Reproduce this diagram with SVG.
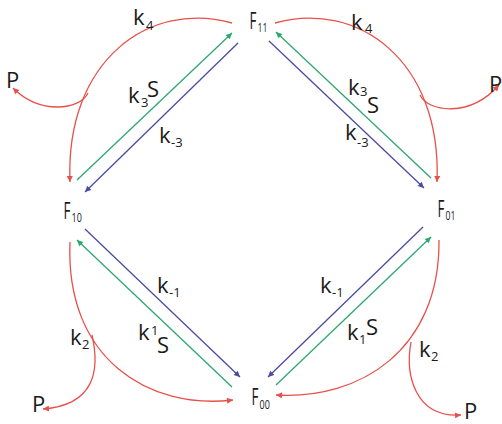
<svg xmlns="http://www.w3.org/2000/svg" width="502" height="424" viewBox="0 0 502 424">
<style>
.t{font-family:"Open Sans","Noto Sans","Liberation Sans",sans-serif;font-size:22px;fill:#1a1a1a}
.s{font-size:13px}
.F{font-family:"Open Sans","Noto Sans","Liberation Sans",sans-serif;font-size:23px;fill:#1a1a1a}
.fs{font-family:"Open Sans","Noto Sans","Liberation Sans",sans-serif;font-size:12px;fill:#1a1a1a}
.r{fill:none;stroke:#e8504a;stroke-width:1.3}
.g{fill:none;stroke:#2da771;stroke-width:1.3}
.b{fill:none;stroke:#4b4ba0;stroke-width:1.3}
</style>
<defs>
<marker id="ar" viewBox="0 0 10 10" refX="10" refY="5" markerWidth="7" markerHeight="6" markerUnits="userSpaceOnUse" orient="auto"><path d="M0,0 L10,5 L0,10 z" fill="#e8504a"/></marker>
<marker id="ag" viewBox="0 0 10 10" refX="10" refY="5" markerWidth="7" markerHeight="6" markerUnits="userSpaceOnUse" orient="auto"><path d="M0,0 L10,5 L0,10 z" fill="#2da771"/></marker>
<marker id="ab" viewBox="0 0 10 10" refX="10" refY="5" markerWidth="7" markerHeight="6" markerUnits="userSpaceOnUse" orient="auto"><path d="M0,0 L10,5 L0,10 z" fill="#4b4ba0"/></marker>
</defs>

<g id="connectors">
<path class="g" d="M77,180 L232,33" marker-end="url(#ag)"/>
<path class="b" d="M238,43 L85,192" marker-end="url(#ab)"/>
<path class="r" d="M232,23 C150,0 65,60 70,182" marker-end="url(#ar)"/>
<path class="r" d="M88,93 C80,110 40,115 13,88" marker-end="url(#ar)"/>
<path class="g" d="M431,178 L276,32" marker-end="url(#ag)"/>
<path class="b" d="M269,41 L424,188" marker-end="url(#ab)"/>
<path class="r" d="M275,23 C357,0 442,60 437,182" marker-end="url(#ar)"/>
<path class="r" d="M420,95 C428,112 470,118 499,85" marker-end="url(#ar)"/>
<path class="b" d="M85,229 L240,377" marker-end="url(#ab)"/>
<path class="g" d="M232,387 L77,240" marker-end="url(#ag)"/>
<path class="r" d="M70,242 C65,360 150,410 233,400" marker-end="url(#ar)"/>
<path class="r" d="M92,335 C100,370 95,405 43,409" marker-end="url(#ar)"/>
<path class="b" d="M423,227 L268,377" marker-end="url(#ab)"/>
<path class="g" d="M276,385 L431,237" marker-end="url(#ag)"/>
<path class="r" d="M439,240 C440,350 360,400 276,395" marker-end="url(#ar)"/>
<path class="r" d="M411,342 C405,375 415,418 461,415" marker-end="url(#ar)"/>
</g>

<g id="F11"><text class="F" transform="translate(249.5,29) scale(0.58,1)">F</text><text class="fs" transform="translate(257.5,32) scale(0.72,1)">11</text></g>
<g id="F10"><text class="F" transform="translate(63.5,219) scale(0.58,1)">F</text><text class="fs" transform="translate(71.5,222) scale(0.75,1)">10</text></g>
<g id="F01"><text class="F" transform="translate(437.5,217) scale(0.58,1)">F</text><text class="fs" transform="translate(445.5,220) scale(0.72,1)">01</text></g>
<g id="F00"><text class="F" transform="translate(251.5,405) scale(0.58,1)">F</text><text class="fs" transform="translate(259.5,409) scale(0.75,1)">00</text></g>

<g id="labels">
<text class="t" x="133" y="25">k<tspan class="s" x="146" y="30">4</tspan></text>
<text class="t" x="351" y="30">k<tspan class="s" x="365" y="33">4</tspan></text>
<text class="t" x="128" y="103">k<tspan class="s" x="141" y="107">3</tspan><tspan x="147" y="97">S</tspan></text>
<text class="t" x="159" y="143">k<tspan class="s" x="171" y="147">-3</tspan></text>
<text class="t" x="348" y="95">k<tspan class="s" x="360" y="96">3</tspan><tspan x="367" y="113">S</tspan></text>
<text class="t" x="345" y="140">k<tspan class="s" x="357" y="147">-3</tspan></text>
<text class="t" x="157" y="293">k<tspan class="s" x="169" y="297">-1</tspan></text>
<text class="t" x="138" y="340">k<tspan class="s" x="151" y="335">1</tspan><tspan x="157" y="353">S</tspan></text>
<text class="t" x="320" y="293">k<tspan class="s" x="332" y="297">-1</tspan></text>
<text class="t" x="347" y="340">k<tspan class="s" x="359" y="344">1</tspan><tspan x="366" y="335">S</tspan></text>
<text class="t" x="70" y="345">k<tspan class="s" x="82" y="349">2</tspan></text>
<text class="t" x="419" y="357">k<tspan class="s" x="431" y="361">2</tspan></text>
<text class="t" x="6" y="88">P</text>
<text class="t" x="489" y="92">P</text>
<text class="t" x="32" y="412">P</text>
<text class="t" x="464" y="419">P</text>
</g>
</svg>
